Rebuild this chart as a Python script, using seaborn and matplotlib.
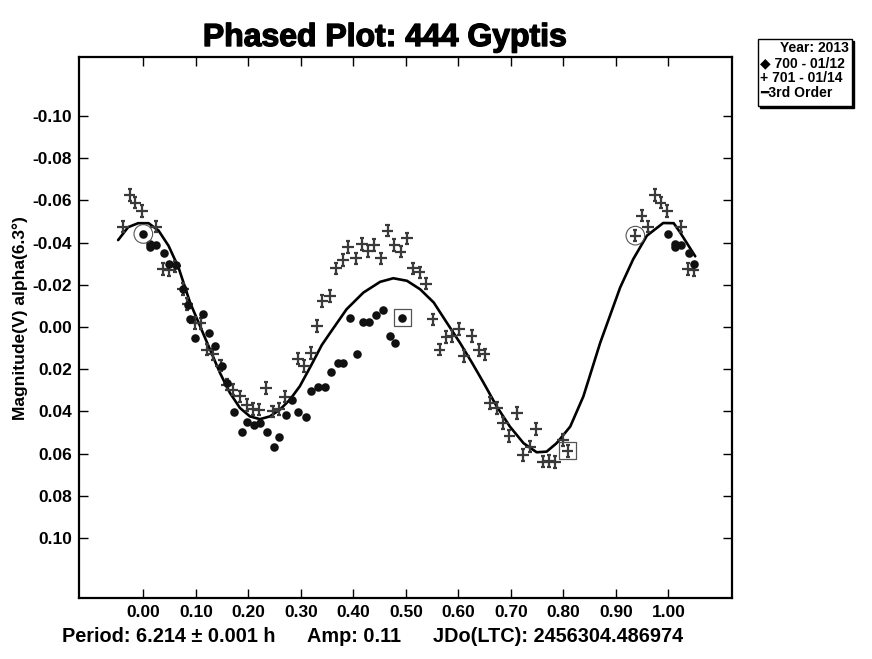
import matplotlib
matplotlib.use("Agg")
import matplotlib.pyplot as plt
import matplotlib.patheffects as pe
import seaborn as sns
import pandas as pd
from matplotlib.path import Path
from matplotlib.patches import Rectangle

# session 700 - 01/12 (phase, magnitude)
phase_700 = [0.000, 0.013, 0.013, 0.024, 0.040, 0.048, 0.063, 0.075, 0.086, 0.089,
             0.098, 0.113, 0.126, 0.137, 0.149, 0.159, 0.173, 0.187, 0.197, 0.210,
             0.222, 0.235, 0.248, 0.259, 0.272, 0.283, 0.295, 0.309, 0.319, 0.332,
             0.346, 0.357, 0.370, 0.381, 0.394, 0.406, 0.418, 0.430, 0.443, 0.456,
             0.469, 0.479, 0.493]
mag_700 = [-0.0441, -0.0393, -0.0378, -0.0390, -0.0349, -0.0300, -0.0295, -0.0179, -0.0103, -0.0036,
           0.0051, -0.0060, 0.0030, 0.0091, 0.0186, 0.0265, 0.0405, 0.0496, 0.0451, 0.0464,
           0.0456, 0.0496, 0.0567, 0.0524, 0.0416, 0.0348, 0.0405, 0.0427, 0.0305, 0.0284,
           0.0284, 0.0213, 0.0170, 0.0170, -0.0044, 0.0126, -0.0023, -0.0023, -0.0055, -0.0079,
           0.0043, 0.0075, -0.0044]

# session 701 - 01/14
phase_701 = [0.024, 0.037, 0.048, 0.060, 0.075, 0.084, 0.098, 0.109, 0.121, 0.133,
             0.147, 0.159, 0.170, 0.184, 0.197, 0.208, 0.221, 0.234, 0.246, 0.259,
             0.270, 0.295, 0.306, 0.319, 0.331, 0.341, 0.355, 0.367, 0.380, 0.390,
             0.405, 0.416, 0.427, 0.440, 0.453, 0.465, 0.478, 0.490, 0.502, 0.513,
             0.526, 0.538, 0.551, 0.564, 0.577, 0.587, 0.601, 0.611, 0.625, 0.639,
             0.650, 0.660, 0.673, 0.685, 0.697, 0.711, 0.723, 0.737, 0.748, 0.761,
             0.773, 0.784, 0.799, 0.808, 0.937, 0.949, 0.961, 0.974, 0.985, 0.998]
mag_701 = [-0.0476, -0.0276, -0.0270, -0.0287, -0.0179, -0.0108, -0.0020, -0.0017, 0.0107, 0.0130,
           0.0183, 0.0273, 0.0297, 0.0329, 0.0369, 0.0389, 0.0392, 0.0289, 0.0400, 0.0389,
           0.0330, 0.0150, 0.0184, 0.0122, -0.0004, -0.0123, -0.0147, -0.0278, -0.0317, -0.0380,
           -0.0325, -0.0393, -0.0361, -0.0389, -0.0325, -0.0457, -0.0389, -0.0357, -0.0420, -0.0278,
           -0.0259, -0.0206, -0.0036, 0.0107, 0.0048, 0.0043, 0.0011, 0.0139, 0.0043, 0.0108,
           0.0130, 0.0361, 0.0384, 0.0456, 0.0516, 0.0408, 0.0607, 0.0567, 0.0484, 0.0638,
           0.0634, 0.0641, 0.0535, 0.0588, -0.0433, -0.0528, -0.0476, -0.0627, -0.0590, -0.0549]

# 3rd order fit curve
fit_phase = [-0.048, -0.029, -0.010, 0.010, 0.029, 0.048, 0.067, 0.089, 0.108, 0.127,
             0.146, 0.165, 0.184, 0.203, 0.222, 0.241, 0.260, 0.279, 0.298, 0.320,
             0.340, 0.356, 0.387, 0.419, 0.451, 0.476, 0.502, 0.527, 0.553, 0.578,
             0.603, 0.626, 0.648, 0.673, 0.698, 0.724, 0.749, 0.768, 0.787, 0.813,
             0.838, 0.870, 0.908, 0.933, 0.959, 0.990, 1.010, 1.022, 1.051]
fit_mag = [-0.0412, -0.0473, -0.0492, -0.0492, -0.0457, -0.0385, -0.0282, -0.0116, -0.0004, 0.0107,
           0.0218, 0.0313, 0.0384, 0.0424, 0.0437, 0.0424, 0.0392, 0.0345, 0.0281, 0.0180,
           0.0085, 0.0027, -0.0084, -0.0163, -0.0214, -0.0231, -0.0219, -0.0179, -0.0116, -0.0020,
           0.0075, 0.0170, 0.0265, 0.0377, 0.0472, 0.0551, 0.0594, 0.0591, 0.0551, 0.0472,
           0.0329, 0.0075, -0.0187, -0.0322, -0.0433, -0.0493, -0.0492, -0.0449, -0.0335]

# first / last observation markers
ring_phase = [0.000, 0.937]
ring_mag = [-0.0441, -0.0433]
box_phase = [0.493, 0.808]
box_mag = [-0.0044, 0.0588]

x_ticks = [0.0, 0.1, 0.2, 0.3, 0.4, 0.5, 0.6, 0.7, 0.8, 0.9, 1.0]
y_ticks = [-0.10, -0.08, -0.06, -0.04, -0.02, 0.00, 0.02, 0.04, 0.06, 0.08, 0.10]

FONT = ["Liberation Sans", "DejaVu Sans"]
PLUS_GREY = "#3a3a3a"


def wrap(phase, mag, lo=-0.045, hi=1.055):
    rows = []
    for p, m in zip(phase, mag):
        for shift in (-1, 0, 1):
            q = p + shift
            if lo <= q <= hi:
                rows.append((q, m))
    return pd.DataFrame(rows, columns=["phase", "mag"])


sns.set_theme(style="ticks")
plt.rcParams["font.family"] = FONT
plt.rcParams["font.weight"] = "bold"
plt.rcParams["text.color"] = "black"

# plus sign with little caps on the vertical arm
plus_marker = Path(
    [(-1, 0), (1, 0), (0, -1), (0, 1), (-0.35, 1), (0.35, 1), (-0.35, -1), (0.35, -1)],
    [Path.MOVETO, Path.LINETO] * 4,
)

fig = plt.figure(figsize=(8.72, 6.59), dpi=100)
ax = fig.add_axes([79 / 872, 61 / 659, 653 / 872, 541 / 659])

df700 = wrap(phase_700, mag_700)
df701 = wrap(phase_701, mag_701)
fit = pd.DataFrame({"phase": fit_phase, "mag": fit_mag})

sns.lineplot(data=fit, x="phase", y="mag", sort=False, color="black", lw=1.9, ax=ax, zorder=2)
sns.scatterplot(data=df701, x="phase", y="mag", marker=plus_marker, s=70,
                facecolor="none", edgecolor=PLUS_GREY, linewidth=1.6, ax=ax, zorder=3)
sns.scatterplot(data=df700, x="phase", y="mag", marker="o", s=38,
                color="#111111", linewidth=0, ax=ax, zorder=4)
ax.scatter(ring_phase, ring_mag, marker="o", s=180, facecolor="none",
           edgecolor="#555555", linewidth=0.8, zorder=5)
ax.scatter(box_phase, box_mag, marker="s", s=150, facecolor="none",
           edgecolor="#555555", linewidth=0.9, zorder=5)

ax.set_xlim(-0.1225, 1.121)
ax.set_ylim(0.1285, -0.128)
ax.set_xticks(x_ticks)
ax.set_xticklabels([f"{v:.2f}" for v in x_ticks])
ax.set_yticks(y_ticks)
ax.set_yticklabels([f"{v:.2f}" for v in y_ticks])
ax.set_xlabel("")
ax.set_ylabel("")
ax.tick_params(direction="in", length=6.5, width=1, top=True, right=True,
               labelsize=12.5, colors="black", pad=5)
for lab in ax.get_xticklabels() + ax.get_yticklabels():
    lab.set_fontweight("bold")
for side in ax.spines.values():
    side.set_linewidth(1.6)
    side.set_color("black")

fig.text(385 / 872, 1 - 46 / 659, "Phased Plot: 444 Gyptis", ha="center", va="baseline",
         fontsize=23, fontweight="bold", color="black",
         path_effects=[pe.withStroke(linewidth=1.0, foreground="black")])
fig.text(20 / 872, 1 - 318 / 659, "Magnitude(V) alpha(6.3°)", rotation=90,
         ha="center", va="center", fontsize=12.5, fontweight="bold")
fig.text(62 / 872, 1 - 642 / 659, "Period: 6.214 ± 0.001 h", ha="left", va="baseline",
         fontsize=14.3, fontweight="bold")
fig.text(307 / 872, 1 - 642 / 659, "Amp: 0.11", ha="left", va="baseline",
         fontsize=14.3, fontweight="bold")
fig.text(433 / 872, 1 - 642 / 659, "JDo(LTC): 2456304.486974", ha="left", va="baseline",
         fontsize=14.3, fontweight="bold")

# legend box with shadow
fig.patches.append(Rectangle((760 / 872, 1 - 108 / 659), 94 / 872, 67 / 659,
                             transform=fig.transFigure, facecolor="black", edgecolor="black", zorder=1))
fig.patches.append(Rectangle((758 / 872, 1 - 106 / 659), 94 / 872, 67 / 659,
                             transform=fig.transFigure, facecolor="white", edgecolor="black",
                             linewidth=1, zorder=2))
fig.text(849 / 872, 1 - 48 / 659, "Year: 2013", ha="right", va="center", fontsize=10,
         fontweight="bold", family=FONT)
fig.text(760 / 872, 1 - 63 / 659, "◆ 700 - 01/12", ha="left", va="center", fontsize=10,
         fontweight="bold", family=FONT)
fig.text(760 / 872, 1 - 78 / 659, "+ 701 - 01/14", ha="left", va="center", fontsize=10,
         fontweight="bold", family=FONT)
fig.text(760 / 872, 1 - 93 / 659, "━3rd Order", ha="left", va="center", fontsize=10,
         fontweight="bold", family=FONT)

fig.savefig("out.png", dpi=100)
plt.close(fig)
